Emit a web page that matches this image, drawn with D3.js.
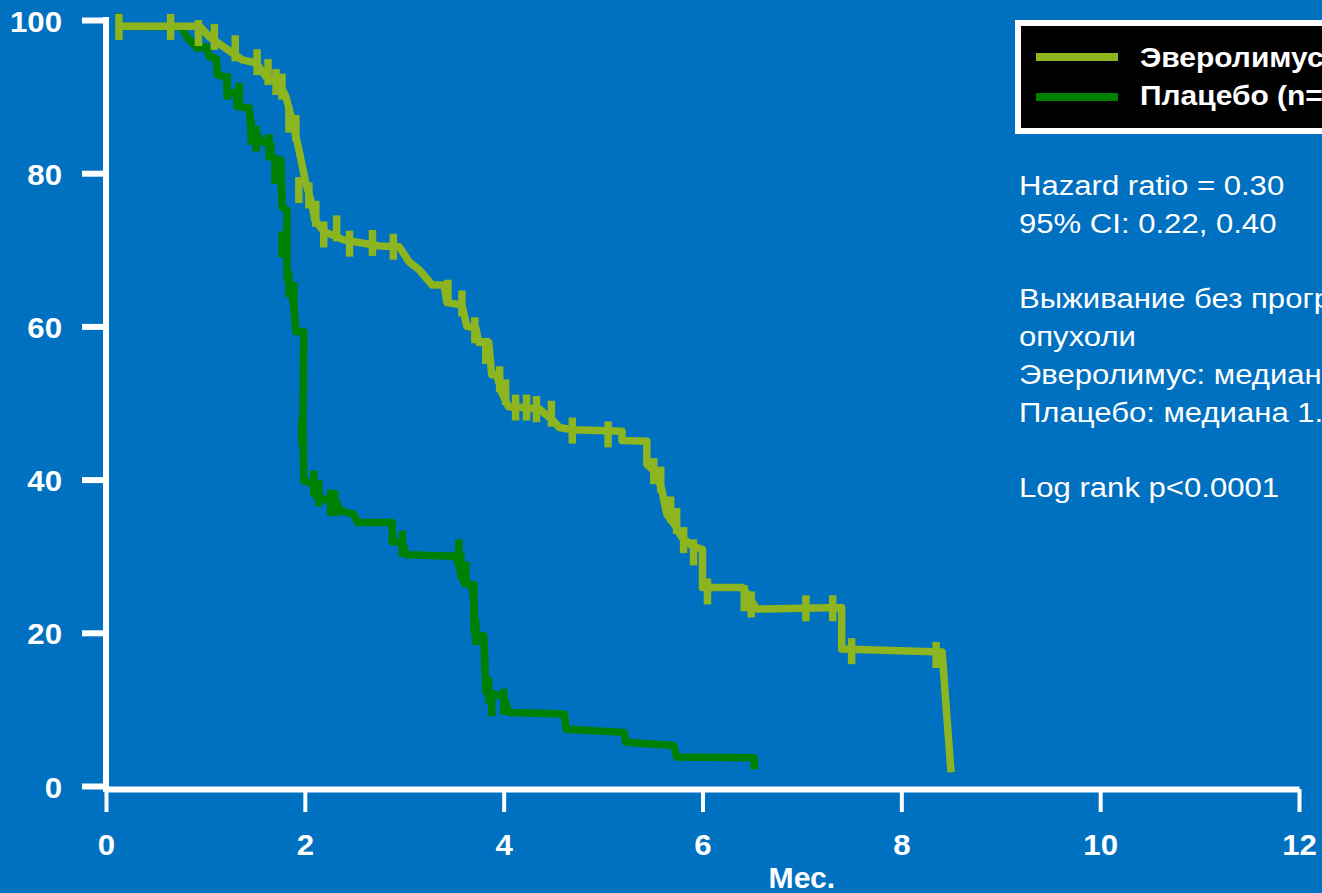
<!DOCTYPE html>
<html>
<head>
<meta charset="utf-8">
<script src="https://cdn.jsdelivr.net/npm/d3@7"></script>
<style>
  html, body { margin: 0; padding: 0; background: #0070c0; overflow: hidden; }
  svg { display: block; font-family: Arial, "Liberation Sans", sans-serif; }
</style>
</head>
<body>
<div id="chart"></div>
<script>
// Kaplan-Meier curves: [months, % without progression]
const everolimusCurve = [
  [0.11, 99.2], [0.94, 99.2], [1.04, 97.8], [1.27, 95.7], [1.37, 94.8], [1.51, 94.4],
  [1.61, 92.6], [1.74, 91.8], [1.81, 90.0], [1.87, 87.0], [1.94, 83.1], [2.01, 78.7],
  [2.07, 76.1], [2.10, 73.9], [2.19, 72.4], [2.39, 71.3], [2.75, 70.5], [2.95, 70.4],
  [3.05, 68.4], [3.15, 67.4], [3.28, 65.4], [3.40, 65.4], [3.43, 63.1], [3.58, 62.8],
  [3.63, 60.0], [3.72, 59.8], [3.75, 57.9], [3.85, 57.9], [3.88, 53.7], [3.93, 53.7],
  [3.98, 51.4], [4.05, 49.5], [4.19, 49.4], [4.36, 49.2], [4.49, 47.8], [4.56, 46.8],
  [4.69, 46.5], [5.19, 46.3], [5.19, 45.1], [5.44, 45.0], [5.44, 42.0], [5.53, 40.9],
  [5.59, 38.7], [5.64, 35.5], [5.73, 33.9], [5.79, 32.5], [5.90, 31.3], [6.00, 30.9],
  [6.00, 25.9], [6.40, 25.9], [6.47, 24.8], [6.54, 23.1], [7.40, 23.3], [7.40, 17.9],
  [8.41, 17.5], [8.50, 1.8]
];
const placeboCurve = [
  [0.11, 99.2], [0.76, 99.1], [0.81, 97.8], [0.92, 96.3], [1.01, 96.5], [1.04, 95.2],
  [1.11, 95.0], [1.12, 92.8], [1.21, 92.6], [1.22, 90.5], [1.31, 90.5], [1.32, 88.7],
  [1.44, 88.5], [1.46, 85.4], [1.52, 85.0], [1.57, 84.1], [1.66, 83.7], [1.66, 82.1],
  [1.76, 81.7], [1.77, 75.6], [1.82, 75.2], [1.82, 66.5], [1.86, 64.8], [1.89, 62.6],
  [1.91, 59.3], [1.99, 59.3], [1.98, 47.5], [1.99, 39.8], [2.07, 39.6], [2.12, 37.8],
  [2.21, 37.4], [2.31, 37.2], [2.36, 35.9], [2.49, 35.5], [2.53, 34.4], [2.88, 34.4],
  [2.88, 31.9], [2.98, 31.8], [3.02, 30.2], [3.52, 30.0], [3.55, 28.7], [3.60, 26.6],
  [3.68, 26.3], [3.70, 24.0], [3.71, 19.8], [3.80, 19.6], [3.82, 12.3], [3.88, 12.0],
  [4.00, 11.7], [4.05, 9.6], [4.61, 9.4], [4.63, 7.4], [5.21, 7.0], [5.23, 5.7],
  [5.71, 5.3], [5.74, 3.8], [6.52, 3.7], [6.52, 2.2]
];
// censored observations (tick marks)
const everolimusCensored = [
  [0.13, 99.1], [0.65, 99.1], [0.93, 98.3], [1.09, 97.8], [1.30, 96.3], [1.52, 94.5],
  [1.63, 93.2], [1.71, 91.9], [1.77, 91.3], [1.84, 87.0], [1.91, 85.9], [1.94, 77.8],
  [2.04, 77.1], [2.11, 74.7], [2.19, 72.0], [2.32, 72.8], [2.45, 70.8], [2.68, 70.9],
  [2.89, 70.4], [3.44, 64.4], [3.58, 63.0], [3.71, 59.5], [3.82, 56.8], [3.96, 53.1],
  [4.02, 51.4], [4.12, 49.4], [4.23, 49.4], [4.33, 49.2], [4.48, 48.6], [4.69, 46.4],
  [5.05, 45.9], [5.51, 41.1], [5.58, 40.0], [5.68, 36.1], [5.74, 34.6], [5.81, 32.1],
  [5.91, 30.5], [6.05, 25.4], [6.42, 24.5], [6.49, 23.7], [7.04, 23.2], [7.31, 23.2],
  [7.50, 17.6], [8.35, 17.1]
];
const placeboCensored = [
  [0.13, 99.2], [1.22, 91.3], [1.34, 90.1], [1.46, 85.4], [1.51, 84.5], [1.64, 83.4],
  [1.70, 80.3], [1.77, 70.7], [1.84, 65.5], [1.89, 64.1], [1.97, 46.2], [2.09, 39.5],
  [2.14, 38.2], [2.26, 37.0], [2.30, 36.9], [2.98, 31.6], [3.55, 30.5], [3.57, 28.7],
  [3.62, 27.6], [3.70, 25.0], [3.70, 21.8], [3.72, 20.1], [3.85, 12.5], [3.88, 10.8],
  [4.00, 11.0]
];

const xTicks = [0, 2, 4, 6, 8, 10, 12];
const yTicks = [0, 20, 40, 60, 80, 100];
const xLabel = "Мес.";
const legendLabels = ["Эверолимус (n=272)", "Плацебо (n=138)"];
const statLines = [
  "Hazard ratio = 0.30",
  "95% CI: 0.22, 0.40",
  "",
  "Выживание без прогрессирования",
  "опухоли",
  "Эверолимус: медиана 4.0 мес.",
  "Плацебо: медиана 1.9 мес.",
  "",
  "Log rank p<0.0001"
];

const width = 1322, height = 893;
const bg = "#0070c0", lightGreen = "#8db51f", darkGreen = "#008000";
const stretch = 1.11;     // slide text is a little wider than plain Arial
const axisStretch = 1.04;

const svg = d3.select("#chart").append("svg")
    .attr("width", width)
    .attr("height", height);

svg.append("rect").attr("width", width).attr("height", height).attr("fill", bg);

const x = d3.scaleLinear().domain([0, 12]).range([106, 1299]);
const y = d3.scaleLinear().domain([0, 100]).range([786, 20]);
const axisY = 789;

// AXES

const xAxis = svg.append("g")
    .attr("transform", `translate(0, ${axisY})`)
    .call(d3.axisBottom(x).tickValues(xTicks).tickSize(23).tickSizeOuter(0));
xAxis.select(".domain").attr("stroke", "#fff").attr("stroke-width", 6);
xAxis.selectAll(".tick line").attr("stroke", "#fff").attr("stroke-width", 4);
xAxis.selectAll(".tick text")
    .attr("y", 66).attr("dy", 0)
    .attr("transform", `scale(${axisStretch},1)`)
    .attr("fill", "#fff")
    .attr("font-size", 30)
    .attr("font-weight", "bold")
    .attr("font-family", "Arial, 'Liberation Sans', sans-serif");

const yAxis = svg.append("g")
    .attr("transform", `translate(${x(0)}, 0)`)
    .call(d3.axisLeft(y).tickValues(yTicks).tickSize(24).tickSizeOuter(0));
yAxis.select(".domain").remove();
yAxis.selectAll(".tick line").attr("stroke", "#fff").attr("stroke-width", 6);
yAxis.selectAll(".tick text")
    .attr("x", -44 / axisStretch).attr("dy", 11)
    .attr("transform", `scale(${axisStretch},1)`)
    .attr("fill", "#fff")
    .attr("font-size", 30)
    .attr("font-weight", "bold")
    .attr("font-family", "Arial, 'Liberation Sans', sans-serif");

svg.append("line")
    .attr("x1", x(0)).attr("x2", x(0))
    .attr("y1", y(100) - 3).attr("y2", axisY + 3)
    .attr("stroke", "#fff").attr("stroke-width", 6);

svg.append("text")
    .attr("transform", `translate(${x(7)}, 888) scale(${axisStretch},1)`)
    .attr("text-anchor", "middle")
    .attr("fill", "#fff")
    .attr("font-size", 29)
    .attr("font-weight", "bold")
    .text(xLabel);

// CURVES

const line = d3.line().x(d => x(d[0])).y(d => y(d[1]));

const series = [
  {curve: placeboCurve, censored: placeboCensored, color: darkGreen},
  {curve: everolimusCurve, censored: everolimusCensored, color: lightGreen}
];

series.forEach(s => {
  const g = svg.append("g");
  g.append("path")
      .datum(s.curve)
      .attr("d", line)
      .attr("fill", "none")
      .attr("stroke", s.color)
      .attr("stroke-width", 7.5)
      .attr("stroke-linejoin", "round");
  g.selectAll("line")
      .data(s.censored)
      .enter()
      .append("line")
      .attr("x1", d => x(d[0])).attr("x2", d => x(d[0]))
      .attr("y1", d => y(d[1]) - 13).attr("y2", d => y(d[1]) + 13)
      .attr("stroke", s.color)
      .attr("stroke-width", 7.5);
});

// LEGEND

const legend = svg.append("g");
legend.append("rect")
    .attr("x", 1018).attr("y", 23)
    .attr("width", 330).attr("height", 108)
    .attr("fill", "#000")
    .attr("stroke", "#fff")
    .attr("stroke-width", 6);

[lightGreen, darkGreen].forEach((c, i) => {
  legend.append("line")
      .attr("x1", 1036).attr("x2", 1118)
      .attr("y1", 57 + i * 40).attr("y2", 57 + i * 40)
      .attr("stroke", c).attr("stroke-width", 8);
  legend.append("text")
      .attr("transform", `translate(1140, ${67 + i * 38}) scale(${stretch},1)`)
      .attr("fill", "#fff")
      .attr("font-size", 27)
      .attr("font-weight", "bold")
      .text(legendLabels[i]);
});

// STATS TEXT

svg.append("g")
    .selectAll("text")
    .data(statLines)
    .enter()
    .append("text")
    .attr("transform", (d, i) => `translate(1019, ${195 + i * 37.8}) scale(${stretch},1)`)
    .attr("fill", "#fff")
    .attr("font-size", 28)
    .text(d => d);
</script>
</body>
</html>
